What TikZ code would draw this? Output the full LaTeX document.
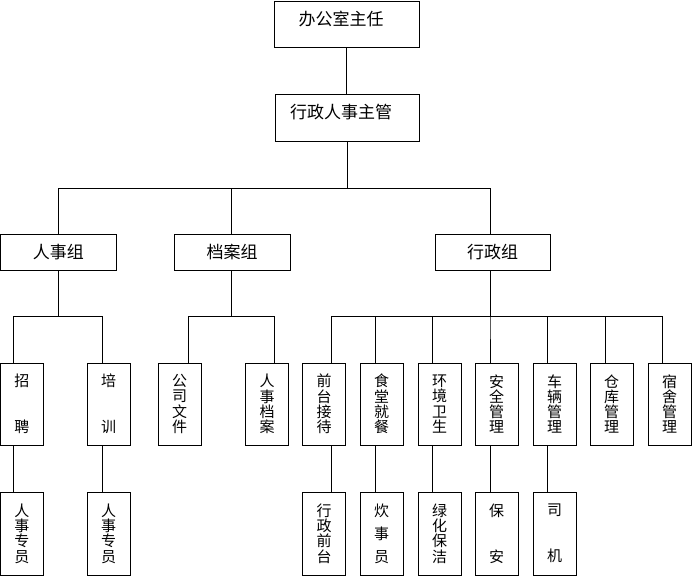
\documentclass[tikz,border=0pt]{standalone}
\usepackage{fontspec}
\newfontfamily\cjk{Noto Sans CJK SC}
\begin{document}
\begin{tikzpicture}[x=1pt,y=1pt,
  box/.style={draw,line width=0.9pt,inner sep=0pt,font=\cjk},
  big/.style={box,font=\cjk\fontsize{17}{17}\selectfont},
  grp/.style={big,minimum width=116pt,minimum height=36pt},
  vbox/.style={box,minimum width=43pt,minimum height=82pt,align=center},
  lbox/.style={vbox,minimum height=83pt},
  f4/.style={font=\cjk\fontsize{15}{15.3}\selectfont},
  f3/.style={font=\cjk\fontsize{15}{23}\selectfont},
  f2/.style={font=\cjk\fontsize{15}{46}\selectfont},
  wire/.style={line width=0.9pt}]
\fill[white] (0,0) rectangle (693,-576);
\useasboundingbox (0,0) rectangle (693,-576);
% top
\node[big,minimum width=145pt,minimum height=46pt] (boss) at (346.5,-24)
  {\raisebox{-1.5pt}[0pt][0pt]{\makebox[0pt]{\hspace*{-11pt}办公室主任}}};
\node[big,minimum width=144pt,minimum height=47pt] (sup) at (347,-117.5)
  {\raisebox{-1pt}[0pt][0pt]{\makebox[0pt]{\hspace*{-12pt}行政人事主管}}};
% groups
\node[grp,minimum width=115.5pt] (g1) at (58.25,-252) {人事组};
\node[grp] (g2) at (232,-252) {档案组};
\node[grp,minimum width=115pt] (g3) at (492.5,-252) {行政组};
% level 3
\node[vbox,f2,minimum width=42.5pt] (c1) at (21.75,-404) {招\\聘};
\node[vbox,f2] (c2) at (108.5,-404) {培\\训};
\node[vbox,f4] (d1) at (179.5,-404) {公\\司\\文\\件};
\node[vbox,f4] (d2) at (267,-404) {人\\事\\档\\案};
\node[vbox,f4] (e1) at (324,-404) {前\\台\\接\\待};
\node[vbox,f4] (e2) at (381.5,-404) {食\\堂\\就\\餐};
\node[vbox,f4] (e3) at (439.5,-404) {环\\境\\卫\\生};
\node[vbox,f4] (e4) at (496.5,-404) {安\\全\\管\\理};
\node[vbox,f4] (e5) at (554.5,-404) {车\\辆\\管\\理};
\node[vbox,f4] (e6) at (611.5,-404) {仓\\库\\管\\理};
\node[vbox,f4] (e7) at (669.5,-404) {宿\\舍\\管\\理};
% level 4
\node[lbox,f4,minimum width=42.5pt] (c1b) at (21.75,-533.5) {人\\事\\专\\员};
\node[lbox,f4] (c2b) at (108.5,-533.5) {人\\事\\专\\员};
\node[lbox,f4] (e1b) at (324,-533.5) {行\\政\\前\\台};
\node[lbox,f3] (e2b) at (381.5,-533.5) {炊\\事\\员};
\node[lbox,f4] (e3b) at (439.5,-533.5) {绿\\化\\保\\洁};
\node[lbox,f2] (e4b) at (496.5,-533.5) {保\\安};
\node[lbox,f2] (e5b) at (554.5,-533.5) {司\\机};
% connectors
\draw[wire] (boss.south) -- (boss.south |- sup.north);
\draw[wire] (sup.south) -- ++(0,-47) -| (g1.north);
\draw[wire] (sup.south) -- ++(0,-47) -| ([xshift=-1pt]g2.north);
\draw[wire] (sup.south) -- ++(0,-47) -| ([xshift=-2.5pt]g3.north);
\draw[wire] (g1.south) -- ++(0,-46) -| ([xshift=-8pt]c1.north);
\draw[wire] (g1.south) -- ++(0,-46) -| ([xshift=-6.5pt]c2.north);
\draw[wire] ([xshift=-1pt]g2.south) -- ++(0,-46) -| ([xshift=8.5pt]d1.north);
\draw[wire] ([xshift=-1pt]g2.south) -- ++(0,-46) -| ([xshift=7pt]d2.north);
\draw[wire] ([xshift=-2.5pt]g3.south) -- ++(0,-46) -| ([xshift=7.5pt]e1.north);
\draw[wire] ([xshift=-2.5pt]g3.south) -- ++(0,-46) -| ([xshift=-6.5pt]e2.north);
\draw[wire] ([xshift=-2.5pt]g3.south) -- ++(0,-46) -| ([xshift=-7.5pt]e3.north);
\draw[wire] ([xshift=-2.5pt]g3.south) -- ++(0,-46) -| ([xshift=-6.5pt]e4.north);
\draw[wire] ([xshift=-2.5pt]g3.south) -- ++(0,-46) -| ([xshift=-7.5pt]e5.north);
\draw[wire] ([xshift=-2.5pt]g3.south) -- ++(0,-46) -| ([xshift=-6.5pt]e6.north);
\draw[wire] ([xshift=-2.5pt]g3.south) -- ++(0,-46) -| ([xshift=-7.5pt]e7.north);
\draw[wire] ([xshift=-8pt]c1.south) -- ([xshift=-8pt]c1b.north);
\draw[wire] ([xshift=-6.5pt]c2.south) -- ([xshift=-6.5pt]c2b.north);
\draw[wire] ([xshift=7.5pt]e1.south) -- ([xshift=7.5pt]e1b.north);
\draw[wire] ([xshift=-6.5pt]e2.south) -- ([xshift=-6.5pt]e2b.north);
\draw[wire] ([xshift=-7.5pt]e3.south) -- ([xshift=-7.5pt]e3b.north);
\draw[wire] ([xshift=-6.5pt]e4.south) -- ([xshift=-6.5pt]e4b.north);
\draw[wire] ([xshift=-7.5pt]e5.south) -- ([xshift=-7.5pt]e5b.north);
\end{tikzpicture}
\end{document}
